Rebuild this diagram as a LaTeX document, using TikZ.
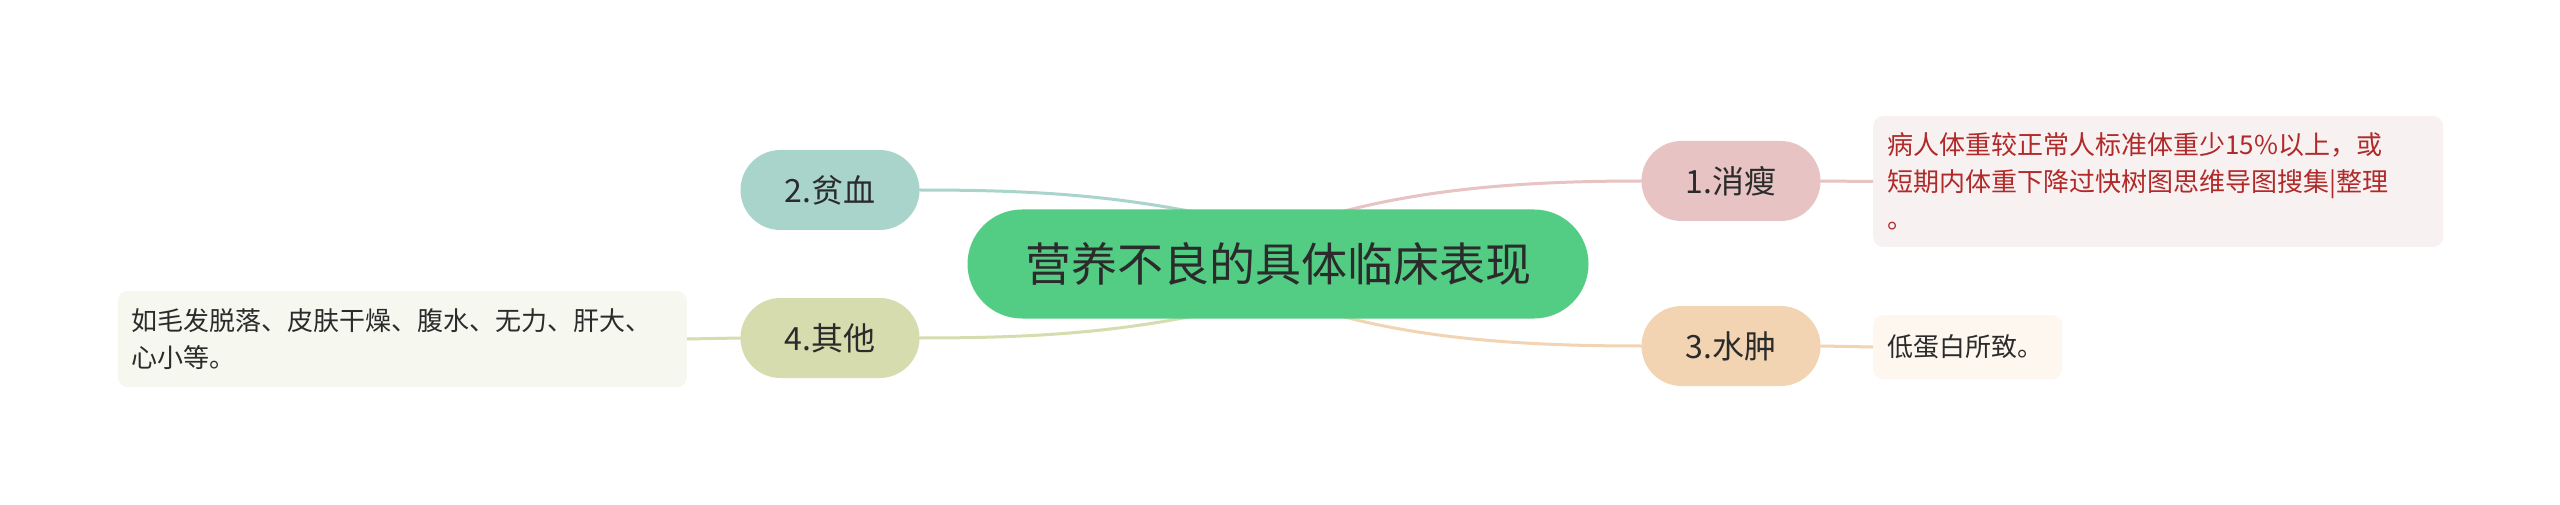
\documentclass[tikz,border=0pt]{standalone}
\usepackage{fontspec}
\newfontfamily\cjk{Noto Sans CJK SC}
\usetikzlibrary{calc}
\definecolor{txt}{HTML}{2B2B2B}
\definecolor{cfill}{HTML}{53CC84}
\definecolor{tealc}{HTML}{A8D4CB}
\definecolor{pinkc}{HTML}{E8C3C3}
\definecolor{peachc}{HTML}{F2D4B2}
\definecolor{olivec}{HTML}{D7DCAF}
\definecolor{leafpink}{HTML}{F8F1F1}
\definecolor{leafpeach}{HTML}{FDF7F0}
\definecolor{leafolive}{HTML}{F6F7EF}
\definecolor{redtxt}{HTML}{B02A2A}
\pgfdeclarelayer{bg}
\pgfsetlayers{bg,main}
\tikzset{
  centerbox/.style={rounded corners=54.5pt, minimum width=621pt, minimum height=109pt, inner sep=0pt, fill=cfill, text=txt, font=\cjk\fontsize{46}{54}\selectfont},
  branchbox/.style={rounded corners=40pt, minimum width=179pt, minimum height=80pt, inner sep=0pt, text=txt, font=\cjk\fontsize{32}{38}\selectfont},
  leafbox/.style={rounded corners=10pt, inner xsep=14pt, inner ysep=0pt, align=left, text=txt, font=\cjk\fontsize{26}{37}\selectfont},
  link/.style={line width=3pt, line cap=round}
}
\begin{document}
\begin{tikzpicture}[x=1pt,y=-1pt]
\begin{pgfonlayer}{bg}
\useasboundingbox[fill=white] (0,0) rectangle (2560,505);
\end{pgfonlayer}
\node[centerbox] (c) at (1278,264) {营养不良的具体临床表现};
\node[branchbox, fill=tealc] (n2) at (830,190) {2.贫血};
\node[branchbox, fill=olivec] (n4) at (830,338) {4.其他};
\node[branchbox, fill=pinkc] (n1) at (1731,181) {1.消瘦};
\node[branchbox, fill=peachc] (n3) at (1731,346) {3.水肿};
\node[leafbox, fill=leafpink, text=redtxt, text width=542pt, minimum height=131pt, anchor=west] (l1) at (1873,181.5)
  {病人体重较正常人标准体重少15\%以上，或\\短期内体重下降过快树图思维导图搜集|整理\\。};
\node[leafbox, fill=leafpeach, text width=161pt, minimum height=64pt, anchor=west] (l3) at (1873,347) {低蛋白所致。};
\node[leafbox, fill=leafolive, text width=541pt, minimum height=96pt, anchor=east] (l4) at (687,339)
  {如毛发脱落、皮肤干燥、腹水、无力、肝大、\\心小等。};
\coordinate (s2) at ($(c.north)+(-58,8)$);
\coordinate (s1) at ($(c.north)+(44,8)$);
\coordinate (s4) at ($(c.south)+(-58,-8)$);
\coordinate (s3) at ($(c.south)+(44,-8)$);
\begin{pgfonlayer}{bg}
\draw[link, tealc] (s2) .. controls (1120,196) and (1040,190) .. (n2.east);
\draw[link, pinkc] (s1) .. controls (1420,188) and (1530,181) .. (n1.west);
\draw[link, olivec] (s4) .. controls (1120,332) and (1040,338) .. (n4.east);
\draw[link, peachc] (s3) .. controls (1420,340) and (1530,346) .. (n3.west);
\draw[link, pinkc] (n1.east) -- (l1.west);
\draw[link, peachc] (n3.east) -- (l3.west);
\draw[link, olivec] (n4.west) -- (l4.east);
\end{pgfonlayer}
\end{tikzpicture}
\end{document}
